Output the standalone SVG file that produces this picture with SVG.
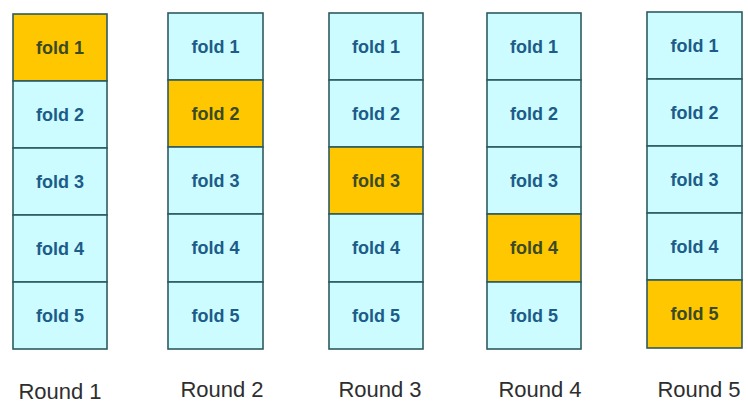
<svg xmlns="http://www.w3.org/2000/svg" width="748" height="403" viewBox="0 0 748 403">
<style>
.c{fill:#ccfcff;stroke:#2d5a60;stroke-width:1.6}
.h{fill:#ffc700;stroke:#2d5a60;stroke-width:1.6}
.t{font-family:"Liberation Sans",Arial,sans-serif;font-weight:bold;font-size:18px;fill:#1d5c88;text-anchor:middle}
.th{font-family:"Liberation Sans",Arial,sans-serif;font-weight:bold;font-size:18px;fill:#3b4a25;text-anchor:middle}
.r{font-family:"Liberation Sans",Arial,sans-serif;font-size:22px;fill:#2e2e2e;text-anchor:middle}
</style>
<rect width="748" height="403" fill="#fff"/>
<g id="round1">
<rect class="h" x="13" y="14" width="94" height="67"/>
<rect class="c" x="13" y="81" width="94" height="67"/>
<rect class="c" x="13" y="148" width="94" height="67"/>
<rect class="c" x="13" y="215" width="94" height="67"/>
<rect class="c" x="13" y="282" width="94" height="67"/>
<text class="th" x="60" y="54">fold 1</text>
<text class="t" x="60" y="121">fold 2</text>
<text class="t" x="60" y="188">fold 3</text>
<text class="t" x="60" y="255">fold 4</text>
<text class="t" x="60" y="322">fold 5</text>
<text class="r" x="60" y="399">Round 1</text>
</g>
<g id="round2">
<rect class="c" x="168" y="13" width="95" height="67"/>
<rect class="h" x="168" y="80" width="95" height="67"/>
<rect class="c" x="168" y="147" width="95" height="67"/>
<rect class="c" x="168" y="214" width="95" height="68"/>
<rect class="c" x="168" y="282" width="95" height="67"/>
<text class="t" x="215.5" y="53">fold 1</text>
<text class="th" x="215.5" y="120">fold 2</text>
<text class="t" x="215.5" y="187">fold 3</text>
<text class="t" x="215.5" y="254">fold 4</text>
<text class="t" x="215.5" y="322">fold 5</text>
<text class="r" x="222" y="397">Round 2</text>
</g>
<g id="round3">
<rect class="c" x="329" y="13" width="94" height="67"/>
<rect class="c" x="329" y="80" width="94" height="67"/>
<rect class="h" x="329" y="147" width="94" height="67"/>
<rect class="c" x="329" y="214" width="94" height="68"/>
<rect class="c" x="329" y="282" width="94" height="67"/>
<text class="t" x="376" y="53">fold 1</text>
<text class="t" x="376" y="120">fold 2</text>
<text class="th" x="376" y="187">fold 3</text>
<text class="t" x="376" y="254">fold 4</text>
<text class="t" x="376" y="322">fold 5</text>
<text class="r" x="380" y="397">Round 3</text>
</g>
<g id="round4">
<rect class="c" x="487" y="13" width="94" height="67"/>
<rect class="c" x="487" y="80" width="94" height="67"/>
<rect class="c" x="487" y="147" width="94" height="67"/>
<rect class="h" x="487" y="214" width="94" height="68"/>
<rect class="c" x="487" y="282" width="94" height="67"/>
<text class="t" x="534" y="53">fold 1</text>
<text class="t" x="534" y="120">fold 2</text>
<text class="t" x="534" y="187">fold 3</text>
<text class="th" x="534" y="254">fold 4</text>
<text class="t" x="534" y="322">fold 5</text>
<text class="r" x="540" y="397">Round 4</text>
</g>
<g id="round5">
<rect class="c" x="647" y="12" width="95" height="67"/>
<rect class="c" x="647" y="79" width="95" height="67"/>
<rect class="c" x="647" y="146" width="95" height="67"/>
<rect class="c" x="647" y="213" width="95" height="67"/>
<rect class="h" x="647" y="280" width="95" height="68"/>
<text class="t" x="694.5" y="52">fold 1</text>
<text class="t" x="694.5" y="119">fold 2</text>
<text class="t" x="694.5" y="186">fold 3</text>
<text class="t" x="694.5" y="253">fold 4</text>
<text class="th" x="694.5" y="320">fold 5</text>
<text class="r" x="699" y="397">Round 5</text>
</g>
<g id="connectors"></g>
</svg>
